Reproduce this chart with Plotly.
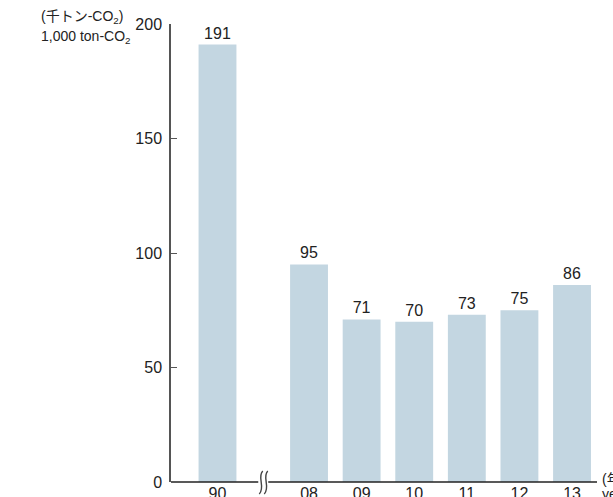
import plotly.graph_objects as go

# Emissions (1,000 ton-CO2) by fiscal year
years = ["90", "08", "09", "10", "11", "12", "13"]
emissions = [191, 95, 71, 70, 73, 75, 86]

# x positions: 1990 baseline, then a shortened gap before the consecutive years
gap = 1.74
xpos = [0.0] + [gap + i for i in range(len(years) - 1)]

W, H = 613, 497
L, R, T, B = 171, 16, 24, 15
pw, ph = W - L - R, H - T - B

def px(x):
    return (x - L) / pw

def py(y):
    return (H - B - y) / ph

FONT = "Liberation Sans, Arial, Noto Sans CJK JP, sans-serif"
BAR = "#c3d6e1"
AXIS = "#555555"

fig = go.Figure(
    go.Bar(
        x=xpos,
        y=emissions,
        width=0.72,
        marker=dict(color=BAR, line=dict(width=0)),
        text=[str(v) for v in emissions],
        textposition="outside",
        textfont=dict(size=16, color="#222222", family=FONT),
        cliponaxis=False,
    )
)

# axis break position, midway between the baseline and the first recent year
brk = gap / 2
x_lo, x_hi = -0.884, -0.884 + pw / 52.6
brk_px = L + (brk - x_lo) / (x_hi - x_lo) * pw

shapes = [
    # x-axis line, interrupted at the break
    dict(type="line", xref="paper", yref="paper", x0=0, x1=px(brk_px - 5), y0=0, y1=0,
         line=dict(color="#222222", width=1.5)),
    dict(type="line", xref="paper", yref="paper", x0=px(brk_px + 5), x1=1, y0=0, y1=0,
         line=dict(color="#222222", width=1.5)),
]
for dx in (-2.5, 2.5):
    cx = brk_px + dx
    path = (f"M {px(cx + 2)},{py(471)} "
            f"C {px(cx - 4)},{py(477)} {px(cx + 5)},{py(487)} {px(cx - 1.5)},{py(494)}")
    shapes.append(dict(type="path", xref="paper", yref="paper", path=path,
                       line=dict(color="#444444", width=1.4)))

annotations = [
    dict(text="(千トン-CO<sub>2</sub>)", xref="paper", yref="paper", x=px(39), y=py(17),
         xanchor="left", yanchor="middle", showarrow=False,
         font=dict(size=14, color="#222222", family=FONT)),
    dict(text="1,000 ton-CO<sub>2</sub>", xref="paper", yref="paper", x=px(39), y=py(37),
         xanchor="left", yanchor="middle", showarrow=False,
         font=dict(size=14, color="#222222", family=FONT)),
    dict(text="(年)", xref="paper", yref="paper", x=px(600), y=py(479),
         xanchor="left", yanchor="middle", showarrow=False,
         font=dict(size=14, color="#222222", family=FONT)),
    dict(text="year", xref="paper", yref="paper", x=px(600), y=py(494),
         xanchor="left", yanchor="middle", showarrow=False,
         font=dict(size=14, color="#222222", family=FONT)),
]

fig.update_layout(
    width=W,
    height=H,
    margin=dict(l=L, r=R, t=T, b=B, autoexpand=False),
    paper_bgcolor="white",
    plot_bgcolor="white",
    showlegend=False,
    font=dict(family=FONT, color="#222222"),
    shapes=shapes,
    annotations=annotations,
    xaxis=dict(
        range=[x_lo, x_hi],
        tickmode="array",
        tickvals=xpos,
        ticktext=years,
        showline=False,
        showgrid=False,
        zeroline=False,
        ticks="",
        automargin=False,
        tickfont=dict(size=16, color="#222222", family=FONT),
        fixedrange=True,
    ),
    yaxis=dict(
        range=[0, 200],
        tickvals=[0, 50, 100, 150, 200],
        showline=True,
        linecolor=AXIS,
        linewidth=1.5,
        ticks="inside",
        ticklen=6,
        tickcolor=AXIS,
        tickwidth=1.2,
        showgrid=False,
        zeroline=False,
        automargin=False,
        tickfont=dict(size=16, color="#222222", family=FONT),
        ticklabelstandoff=4,
        fixedrange=True,
    ),
)

fig.write_html("out.html")
